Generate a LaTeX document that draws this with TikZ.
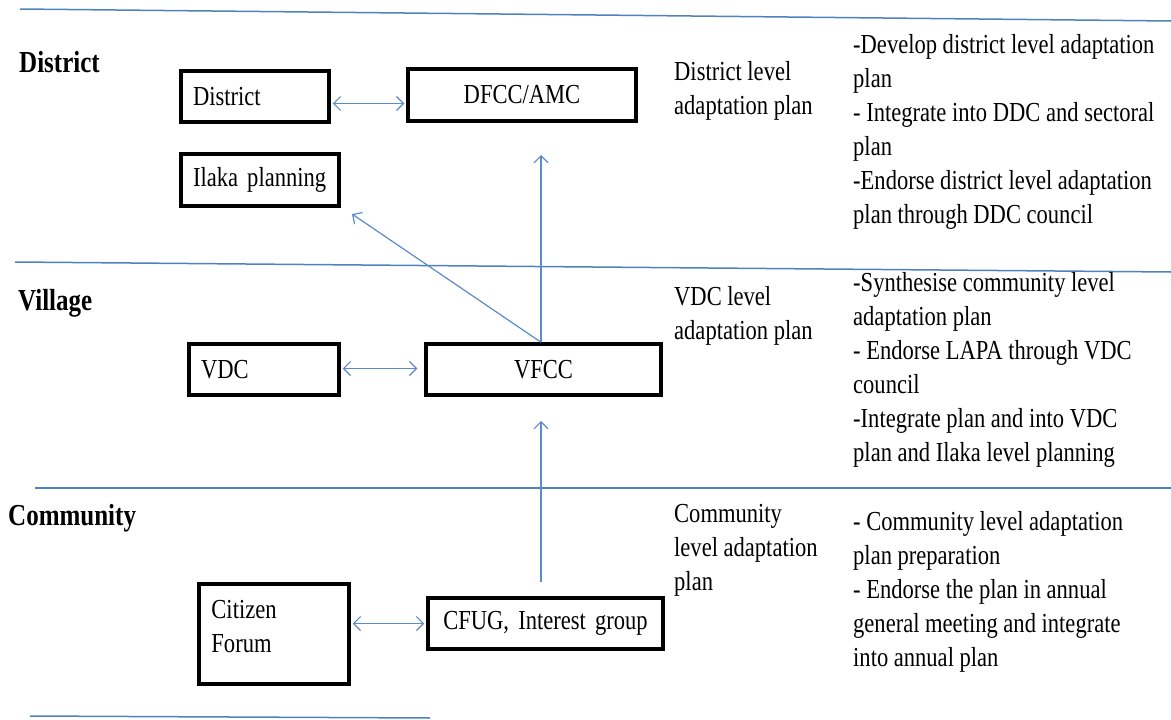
\documentclass[tikz,border=0pt]{standalone}
\usepackage{fontspec}
\setmainfont[FakeStretch=0.82]{Liberation Serif}
\usetikzlibrary{arrows.meta,calc}
\definecolor{lineblue}{RGB}{79,129,189}
\definecolor{arrblue}{RGB}{91,139,201}
\begin{document}
\begin{tikzpicture}[x=1pt,y=-1pt,
  every node/.style={font=\fontsize{27.5}{34}\selectfont, inner sep=0pt},
  box/.style={draw=black, line width=3.5pt, inner xsep=12pt, inner ysep=0pt},
  level/.style={font=\fontsize{30.5}{34}\selectfont\bfseries, anchor=base west},
  sep/.style={draw=lineblue, line width=1.5pt},
  conn/.style={draw=arrblue, line width=1.2pt, -{Straight Barb[length=7pt,width=14pt]}},
  both/.style={draw=arrblue, line width=1.2pt, {Straight Barb[length=7pt,width=14pt]}-{Straight Barb[length=7pt,width=14pt]}},
  txt/.style={align=left, anchor=north west}]
\useasboundingbox (0,0) rectangle (1171,720);

% separators
\draw[sep] (20,9) -- (1171,21);
\draw[sep] (15,262) -- (1171,272);
\draw[sep] (35,488) -- (1171,488);
\draw[sep] (30,716) -- (430,718);

% level labels
\node[level] (lDistrict) at (19,72) {District};
\node[level] (lVillage) at (18,310) {Village};
\node[level] (lCommunity) at (8,525) {Community};

% boxes
\node[box, minimum width=148, minimum height=51, text width=124, align=left] (district) at (255,96.5) {District};
\node[box, minimum width=228, minimum height=52, text width=204, align=center] (dfcc) at (522,95) {DFCC/AMC};
\node[box, minimum width=158, minimum height=52, text width=134, align=left] (ilaka) at (260,180) {Ilaka planning};
\node[box, minimum width=150, minimum height=51, text width=126, align=left] (vdc) at (264,369.5) {VDC};
\node[box, minimum width=235, minimum height=51, text width=211, align=center] (vfcc) at (543.5,369.5) {VFCC};
\node[box, minimum width=150, minimum height=100] (citizen) at (274,634) {};
\node[txt] (citizenTxt) at ($(citizen.north west)+(14,18)$) {Citizen\\Forum};
\node[box, minimum width=235, minimum height=51, text width=211, align=center] (cfug) at (545.5,623.5) {CFUG, Interest group};

% free ends
\coordinate (dtip) at (541,155);
\coordinate (itip) at (352,214);
\coordinate (vtip) at (541,421);

% connectors
\draw[both] ($(district.east)+(2,7)$) -- ($(district.east -| dfcc.west)+(-2,7)$);
\draw[both] ($(vdc.east)+(2,-1)$) -- ($(vdc.east -| vfcc.west)+(-7,-1)$);
\draw[both] ($(citizen.east |- cfug.west)+(2,0)$) -- ($(cfug.west)+(-2,0)$);
\draw[conn] (vfcc.north -| dtip) -- (dtip);
\draw[conn] (vfcc.north -| dtip) -- (itip);
\draw[conn] ($(cfug.north -| dtip)+(0,-14)$) -- (vtip);

% middle column
\node[txt] (mDistrict) at (674,61) {District level\\adaptation plan};
\node[txt] (mVillage) at (674,286) {VDC level\\adaptation plan};
\node[txt] (mCommunity) at (674,504) {Community\\level adaptation\\plan};

% right column
\node[txt] (rDistrict) at (853,34) {-Develop district level adaptation\\plan\\- Integrate into DDC and sectoral\\plan\\-Endorse district level adaptation\\plan through DDC council};
\node[txt] (rVillage) at (853,272) {-Synthesise community level\\adaptation plan\\- Endorse LAPA through VDC\\council\\-Integrate plan and into VDC\\plan and Ilaka level planning};
\node[txt] (rCommunity) at (853,511) {- Community level adaptation\\plan preparation\\- Endorse the plan in annual\\general meeting and integrate\\into annual plan};
\end{tikzpicture}
\end{document}
